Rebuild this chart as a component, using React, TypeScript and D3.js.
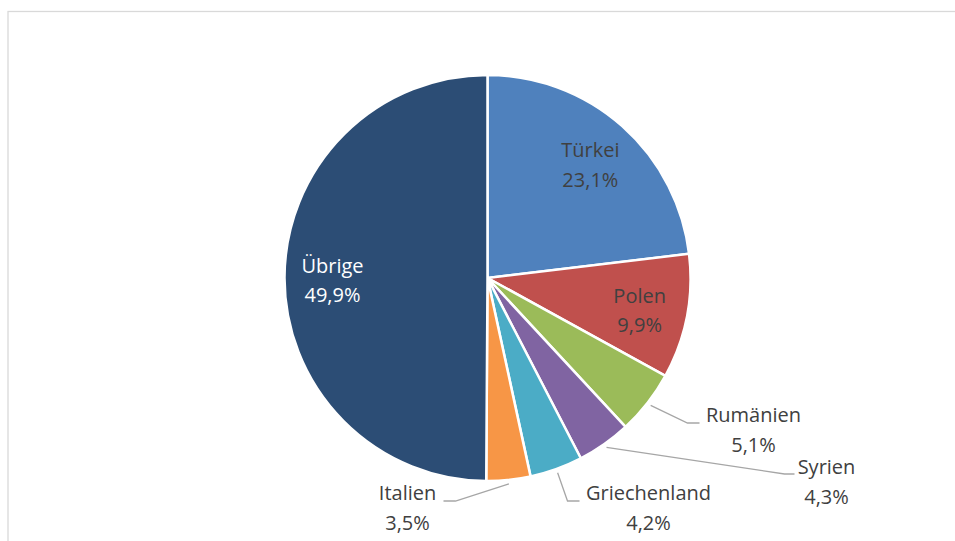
import React, { useRef, useEffect } from "react";
import * as d3 from "d3";

// Anteile in Prozent, im Uhrzeigersinn ab 12 Uhr
const countries = ["Türkei", "Polen", "Rumänien", "Syrien", "Griechenland", "Italien", "Übrige"];
const shares = [23.1, 9.9, 5.1, 4.3, 4.2, 3.5, 49.9];
const colors = ["#4F81BD", "#C0504D", "#9BBB59", "#8064A2", "#4BACC6", "#F79646", "#2C4D75"];
const insideLabels = ["Türkei", "Polen", "Übrige"];

// where the leader lines of the outer labels end (relative to pie centre)
const leaderLayout: Record<string, { elbow: [number, number]; end: [number, number]; textX: number; baseline: number }> = {
  "Rumänien": { elbow: [200, 145], end: [212, 145], textX: 266, baseline: 144 },
  Syrien: { elbow: [297, 196], end: [307, 196], textX: 339, baseline: 196 },
  Griechenland: { elbow: [80, 223], end: [92, 223], textX: 161, baseline: 222 },
  Italien: { elbow: [-32, 223], end: [-44, 223], textX: -80, baseline: 222 },
};

const fmt = (v: number) => v.toFixed(1).replace(".", ",") + "%";

const App = () => {
  const ref = useRef<SVGSVGElement>(null);
  const width = 955,
    height = 541,
    cx = 487.5,
    cy = 278,
    radius = 203,
    lineGap = 29.5;

  useEffect(() => {
    if (!ref.current) return;
    const svg = d3.select(ref.current);
    svg.selectAll("*").remove();

    svg
      .append("rect")
      .attr("x", 8)
      .attr("y", 11.5)
      .attr("width", 1000)
      .attr("height", 600)
      .attr("fill", "#fff")
      .attr("stroke", "#D9D9D9")
      .attr("stroke-width", 1.3);

    const data = countries.map((name, i) => ({ name, value: shares[i], color: colors[i] }));
    const pie = d3
      .pie<{ name: string; value: number; color: string }>()
      .value((d) => d.value)
      .sort(null);
    const arcs = pie(data);

    const arc = d3.arc<d3.PieArcDatum<any>>().innerRadius(0).outerRadius(radius);
    const labelArc = d3.arc<d3.PieArcDatum<any>>().innerRadius(155).outerRadius(155);
    const edgeArc = d3.arc<d3.PieArcDatum<any>>().innerRadius(radius + 4).outerRadius(radius + 4);

    const g = svg.append("g").attr("transform", `translate(${cx},${cy})`);

    g.selectAll("path.slice")
      .data(arcs)
      .join("path")
      .attr("class", "slice")
      .attr("d", arc)
      .attr("fill", (d) => d.data.color)
      .attr("stroke", "#fff")
      .attr("stroke-width", 2.5)
      .attr("stroke-linejoin", "round");

    const font = "'Open Sans', sans-serif";

    arcs.forEach((d) => {
      const name = d.data.name;
      if (insideLabels.includes(name)) {
        const [x, y] = labelArc.centroid(d);
        const t = g
          .append("text")
          .attr("text-anchor", "middle")
          .attr("font-family", font)
          .attr("font-size", 20)
          .attr("fill", name === "Übrige" ? "#FFFFFF" : "#404040");
        t.append("tspan").attr("x", x).attr("y", y - 5).text(name);
        t.append("tspan").attr("x", x).attr("y", y - 5 + lineGap).text(fmt(d.data.value));
      } else {
        const lay = leaderLayout[name];
        const start = edgeArc.centroid(d);
        g.append("polyline")
          .attr("points", [start, lay.elbow, lay.end].map((p) => p.join(",")).join(" "))
          .attr("fill", "none")
          .attr("stroke", "#A6A6A6")
          .attr("stroke-width", 1.3);
        const t = g
          .append("text")
          .attr("text-anchor", "middle")
          .attr("font-family", font)
          .attr("font-size", 20)
          .attr("fill", "#404040");
        t.append("tspan").attr("x", lay.textX).attr("y", lay.baseline).text(name);
        t.append("tspan").attr("x", lay.textX).attr("y", lay.baseline + lineGap).text(fmt(d.data.value));
      }
    });
  }, []);

  return (
    <svg
      ref={ref}
      width={width}
      height={height}
      style={{ position: "absolute", left: 0, top: 0, background: "#fff" }}
    ></svg>
  );
};

export default App;
